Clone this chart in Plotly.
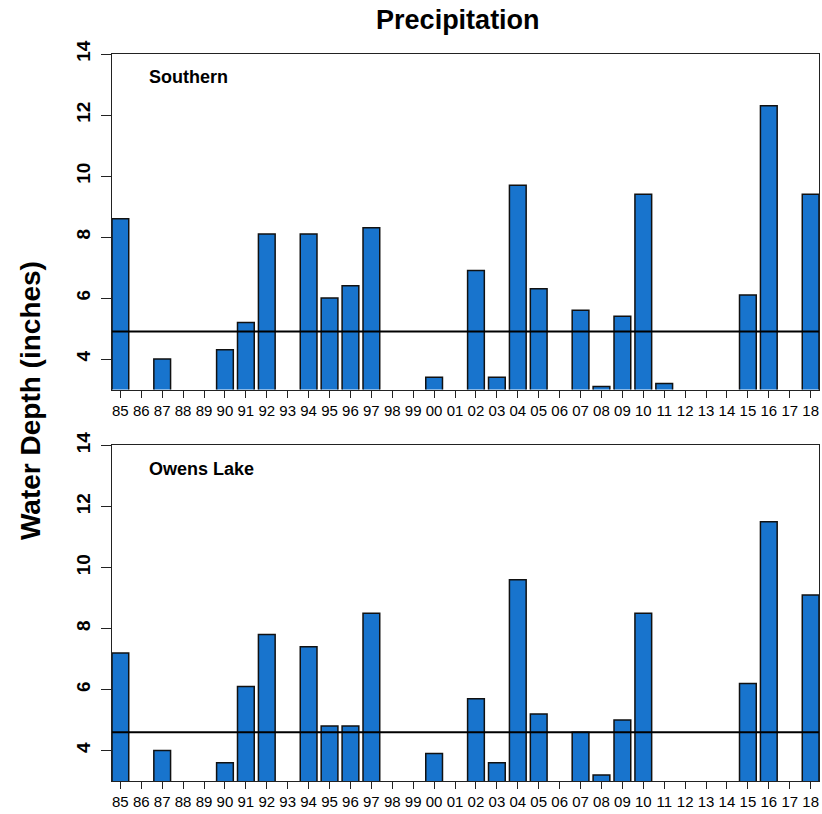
import plotly.graph_objects as go
from plotly.subplots import make_subplots

# Water years (two-digit labels) and precipitation depths in inches.
# Years with no bar are recorded as None.
years = ["85", "86", "87", "88", "89", "90", "91", "92", "93", "94", "95", "96",
         "97", "98", "99", "00", "01", "02", "03", "04", "05", "06", "07", "08",
         "09", "10", "11", "12", "13", "14", "15", "16", "17", "18"]

southern = [8.6, None, 4.0, None, None, 4.3, 5.2, 8.1, None, 8.1, 6.0, 6.4,
            8.3, None, None, 3.4, None, 6.9, 3.4, 9.7, 6.3, None, 5.6, 3.1,
            5.4, 9.4, 3.2, None, None, None, 6.1, 12.3, None, 9.4]

owens_lake = [7.2, None, 4.0, None, None, 3.6, 6.1, 7.8, None, 7.4, 4.8, 4.8,
              8.5, None, None, 3.9, None, 5.7, 3.6, 9.6, 5.2, None, 4.6, 3.2,
              5.0, 8.5, None, None, None, None, 6.2, 11.5, None, 9.1]

# Long-term average for each region
southern_avg = 4.9
owens_lake_avg = 4.6

panel_names = ["Southern", "Owens Lake"]
y_ticks = [4, 6, 8, 10, 12, 14]

BAR_COLOR = "#1874CD"
FONT = "Liberation Sans, Arial, Helvetica, sans-serif"
AXIS_COLOR = "#222222"

fig = make_subplots(rows=2, cols=1, vertical_spacing=0.077)

panels = [(southern, southern_avg), (owens_lake, owens_lake_avg)]
for i, (vals, avg) in enumerate(panels, start=1):
    fig.add_trace(
        go.Bar(
            x=years, y=vals, width=0.8,
            marker=dict(color=BAR_COLOR, line=dict(color="#111111", width=1.5)),
            showlegend=False, hoverinfo="x+y",
        ),
        row=i, col=1,
    )
    axis_suffix = "" if i == 1 else str(i)
    fig.add_shape(
        type="line", xref=f"x{axis_suffix} domain", yref=f"y{axis_suffix}",
        x0=0, x1=1, y0=avg, y1=avg,
        line=dict(color="black", width=2),
    )
    fig.add_annotation(
        xref=f"x{axis_suffix} domain", yref=f"y{axis_suffix} domain",
        x=0.0495, y=0.93, xanchor="left", yanchor="middle",
        text=f"<b>{panel_names[i - 1]}</b>", showarrow=False,
        font=dict(family=FONT, size=18, color="black"),
    )
    fig.update_xaxes(
        row=i, col=1, type="category", range=[-0.4, len(years) - 0.6],
        tickmode="array", tickvals=years, ticktext=years,
        ticks="outside", ticklen=7, tickwidth=1.3, tickcolor=AXIS_COLOR,
        showline=True, mirror=True, linecolor=AXIS_COLOR, linewidth=1.3,
        showgrid=False, zeroline=False,
        tickfont=dict(family=FONT, size=15, color="black"),
    )
    fig.update_yaxes(
        row=i, col=1, range=[3, 14],
        tickmode="array", tickvals=y_ticks,
        ticks="outside", ticklen=10, tickwidth=1.3, tickcolor=AXIS_COLOR,
        showline=True, mirror=True, linecolor=AXIS_COLOR, linewidth=1.3,
        showgrid=False, zeroline=False, tickangle=-90,
        ticklabelstandoff=3,
        tickfont=dict(family=FONT, size=19, color="black", weight="bold"),
    )

fig.add_annotation(
    xref="paper", yref="paper", x=-0.116, y=0.524,
    text="<b>Water Depth (inches)</b>", textangle=-90, showarrow=False,
    xanchor="center", yanchor="middle",
    font=dict(family=FONT, size=28, color="black"),
)

fig.update_layout(
    width=822, height=814,
    margin=dict(l=112, r=3, t=54, b=33),
    paper_bgcolor="white", plot_bgcolor="white",
    title=dict(
        text="<b>Precipitation</b>", x=0.557, y=0.9754,
        xanchor="center", yanchor="middle",
        font=dict(family=FONT, size=27, color="black"),
    ),
    bargap=0.2,
)

fig.write_html("out.html")
